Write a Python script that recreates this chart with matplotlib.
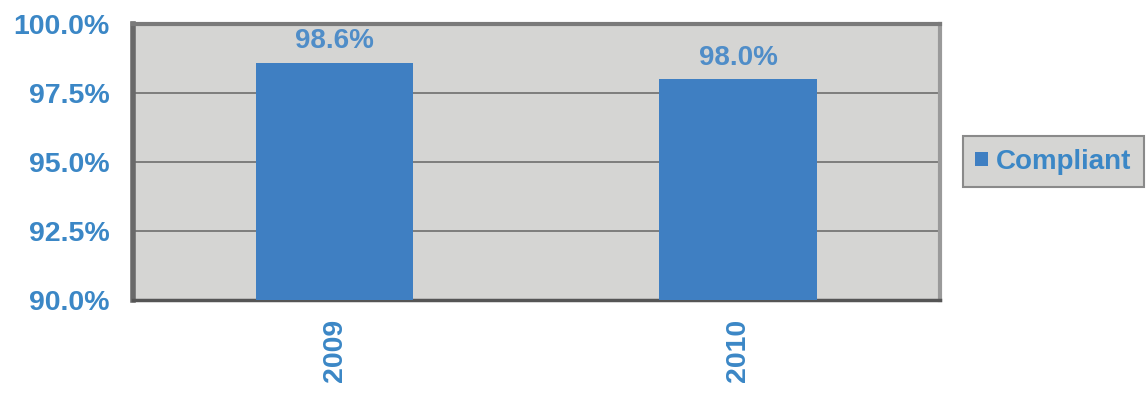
import matplotlib.pyplot as plt
from matplotlib.ticker import FuncFormatter

years = ["2009", "2010"]
compliant = [98.6, 98.0]
y_ticks = [90.0, 92.5, 95.0, 97.5, 100.0]

blue_text = "#3b87c6"
bar_color = "#3f7fc2"

plt.rcParams["font.family"] = ["Liberation Sans", "DejaVu Sans"]

fig = plt.figure(figsize=(11.46, 3.93), dpi=100)
ax = fig.add_axes([0.116, 0.237, 0.704, 0.702])
ax.set_facecolor("#d5d5d3")

x = range(len(years))
bars = ax.bar(x, compliant, width=0.39, color=bar_color, zorder=3, label="Compliant")
for b, v in zip(bars, compliant):
    ax.text(b.get_x() + b.get_width() / 2, v + 0.3, f"{v:.1f}%", ha="center", va="bottom",
            color="#4f8dc8", fontsize=20, fontweight="bold", zorder=4)

ax.set_xlim(-0.5, 1.5)
ax.set_ylim(90, 100)
ax.set_yticks(y_ticks)
ax.yaxis.set_major_formatter(FuncFormatter(lambda v, p: f"{v:.1f}%"))
ax.set_xticks(list(x))
ax.set_xticklabels(years, rotation=90)
ax.grid(axis="y", color="#6e6e6e", linewidth=1.2, zorder=1)

for lbl in ax.get_yticklabels() + ax.get_xticklabels():
    lbl.set_color(blue_text)
    lbl.set_fontweight("bold")
    lbl.set_fontsize(20.5)
ax.tick_params(axis="y", length=0, pad=17)
ax.tick_params(axis="x", length=0, pad=14)

ax.spines["left"].set_color("#6a6a6a")
ax.spines["left"].set_linewidth(4)
ax.spines["top"].set_color("#7a7a7a")
ax.spines["top"].set_linewidth(3)
ax.spines["right"].set_color("#9a9a9a")
ax.spines["right"].set_linewidth(3)
ax.spines["bottom"].set_color("#555555")
ax.spines["bottom"].set_linewidth(2.5)

leg = fig.legend(handles=[bars], labels=["Compliant"], loc="center left",
                 bbox_to_anchor=(0.840, 0.588), frameon=True, fancybox=False,
                 handlelength=0.45, handleheight=0.45, handletextpad=0.3, borderpad=0.45,
                 borderaxespad=0, prop={"weight": "bold", "size": 20})
leg.get_frame().set_facecolor("#d5d5d3")
leg.get_frame().set_edgecolor("#8a8a8a")
leg.get_frame().set_linewidth(1.5)
leg.get_frame().set_alpha(1)
for t in leg.get_texts():
    t.set_color(blue_text)

fig.savefig("out.png", dpi=100)
